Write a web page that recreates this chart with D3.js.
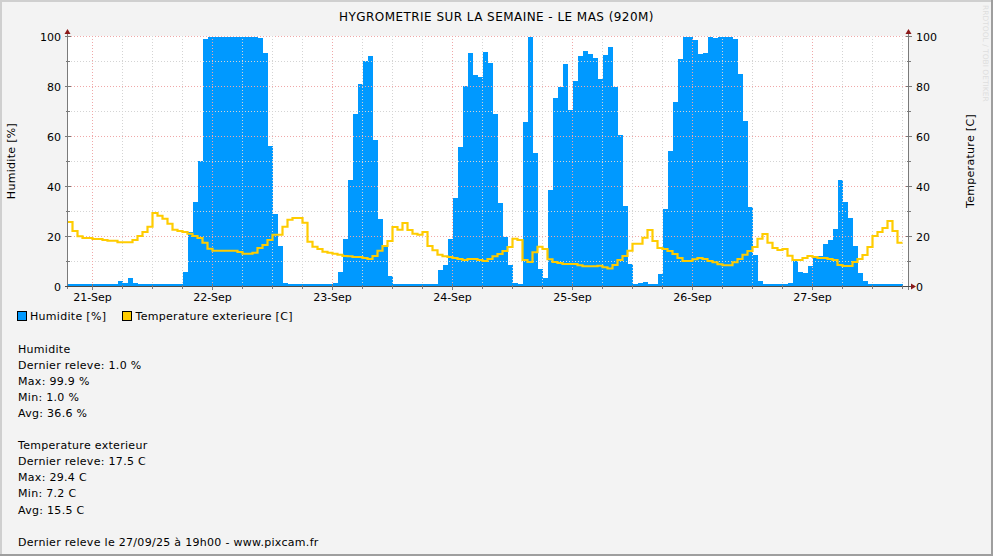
<!DOCTYPE html>
<html><head><meta charset="utf-8">
<script src="https://cdn.jsdelivr.net/npm/d3@7"></script>
<style>
html,body{margin:0;padding:0;background:#f3f3f3;}
svg text{font-family:"DejaVu Sans",sans-serif;fill:#000;}
</style></head>
<body><svg id="c" width="993" height="556"></svg>
<script>
// ---------- DATA ----------
const title = "HYGROMETRIE SUR LA SEMAINE - LE MAS (920M)";
const startTime = new Date(2025, 8, 20, 19, 0);   // first hourly sample
const endTime = new Date(2025, 8, 27, 19, 0);     // end of the graph window
const dayTicks = ["21-Sep","22-Sep","23-Sep","24-Sep","25-Sep","26-Sep","27-Sep"];
const yTicks = [0, 20, 40, 60, 80, 100];

const humidite = [
 1,1,1,1,1,1,1,1,1,1, 2.2,1.4,3.4,1.4, 1,1,1,1,1,1,1,1,1,
 5.8,21.8,33.8,50.2,99,99.8,99.8,99.9,99.9,99.9,99.9,99.9,99.8,99.8,99.8,99.4,93.4,56.2,29,16.2,1.4,
 1,1,1,1,1,1,1,1,1, 1.4,5.8,19,
 42.6,69,81,90.2,92.2,58.6,27,16,4.2,
 1,1,1,1,1,1,1,1,1,
 6.6,8.6,19,35.4,55.8,80.2,93.4,84.6,83.8,93.8,89.4,69,33.4,19.8,8.6,1.4,1,
 65.8,99.8,53.4,7,3.4,38.6,75.4,79.8,89,70.6,82.2,92.2,94.2,93,91.4,83,92.6,95.8,79.8,60.6,32.2,
 9,1,1.4,1.8,1,1,5,31,54.2,73.8,91,99.8,99.8,98.6,93,93.4,99.8,99.4,99.8,99.8,99.8,99,85,66.2,31.8,12.6,2.2,
 1,1,1,1,1, 1.4,10.2,5.8,5.4,8.2,12.2,12.2,17,18.6,23,42.6,33.8,27.4,16.2,5.4,2.2,
 1,1,1,1,1,1,1
];
const temperature = [
 25.8,22.2,20.1,19.4,19.4,19,19,18.6,18.3,18.3,
 17.7,17.7,17.7,18.6,20.2,21.8,23.9,29.4,28.3,27.1,
 25.1,22.7,22.2,21.8,21.1,20.2,19.4,17.5,15.1,14.3,
 14.3,14.3,14.3,14.3,13.8,13.1,13.1,13.5,15.4,16.6,
 18.6,20.7,20.7,23.9,26.7,27.4,27.4,25.5,17.9,15.9,
 15,13.9,13.5,13.1,12.7,12.2,
 12.1,11.8,11.8,11.4,11,12.2,14.3,16.2,18.2,23.8,
 22.7,25.4,22.6,21.1,20.7,21.8,16.2,14.5,12.7,12.1,
 11.8,11.4,11,10.6,11,11,10.6,10.2,11,12.1,
 13,14.2,15.8,19.1,18.6,10.6,9.8,13.7,15.9,15,
 10.9,9.8,9.4,9,9,9,8.5,8.1,8.1,8.1,
 8.3,7.7,7.2,8.6,10.6,12.2,
 14.3,17.1,17.1,19.5,22.6,18.2,15.4,15,14.2,13,
 11.4,10.2,10.2,10.9,11.4,11,10.2,9.7,8.9,8.5,
 8.5,9.7,11,12.7,14.2,15.8,19.1,21,17.5,15.4,
 14.6,15,12.3,10.6,10.6,11.4,12.2,11.8,11.4,11.4,
 11,10.6,8.6,8.2,8.2,9.8,11,12.6,15.8,20.2,
 21.8,23.4,26.2,22.2,17.5
];
const legendLabels = ["Humidite [%]", "Temperature exterieure [C]"];
const statLines = [
 "Humidite", "Dernier releve: 1.0 %", "Max: 99.9 %", "Min: 1.0 %", "Avg: 36.6 %", "",
 "Temperature exterieur", "Dernier releve: 17.5 C", "Max: 29.4 C", "Min: 7.2 C", "Avg: 15.5 C", "",
 "Dernier releve le 27/09/25 \u00e0 19h00 - www.pixcam.fr"
];

// ---------- DRAW ----------
const W = 993, H = 556;
const svg = d3.select("#c");
const HOUR = 3600e3;
const x = d3.scaleTime().domain([startTime, endTime]).range([67.5, 907.5]);
const y = d3.scaleLinear().domain([0, 100]).range([286.5, 36.5]);
const blue = "#0099ff", yellow = "#ffcc00";

// canvas & frame
svg.append("rect").attr("x",0).attr("y",0).attr("width",W).attr("height",H).attr("fill","#f3f3f3");
svg.append("path").attr("d",`M1,${H} V1 H${W}`).attr("stroke","#cfcfcf").attr("stroke-width",2).attr("fill","none");
svg.append("path").attr("d",`M0,${H-1} H${W-1} V0`).attr("stroke","#9e9e9e").attr("stroke-width",2).attr("fill","none");

// plot background
svg.append("rect").attr("x",68).attr("y",36).attr("width",840).attr("height",250).attr("fill","#ffffff");

// data series
const hum = humidite.map((v,i)=>({t:new Date(+startTime + i*HOUR), v}));
hum.push({t:new Date(+startTime + humidite.length*HOUR), v:humidite[humidite.length-1]});
const tmp = temperature.map((v,i)=>({t:new Date(+startTime + i*HOUR), v}));
tmp.push({t:new Date(+startTime + temperature.length*HOUR), v:temperature[temperature.length-1]});

const area = d3.area().curve(d3.curveStepAfter).x(d=>x(d.t)).y0(y(0)).y1(d=>y(d.v));
svg.append("path").datum(hum).attr("d",area).attr("fill",blue).attr("shape-rendering","crispEdges");

// grid (drawn over the area, as in the original)
const grid = svg.append("g").attr("shape-rendering","crispEdges");
for (let v = 10; v <= 100; v += 10) {
  const major = v % 20 === 0;
  grid.append("line").attr("x1",68).attr("x2",908).attr("y1",y(v)).attr("y2",y(v))
    .attr("stroke", major ? "#f0a8a8" : "#d4d4d4").attr("stroke-dasharray","1,2");
}
const sixHours = d3.timeHour.every(6).range(startTime, endTime);
sixHours.forEach(t=>{
  const major = t.getHours() === 0;
  grid.append("line").attr("x1",x(t)).attr("x2",x(t)).attr("y1",36).attr("y2",286)
    .attr("stroke", major ? "#f0a8a8" : "#d4d4d4").attr("stroke-dasharray","1,2");
});

// temperature line
const line = d3.line().curve(d3.curveStepAfter).x(d=>x(d.t)).y(d=>y(d.v));
svg.append("path").datum(tmp).attr("d",line).attr("fill","none").attr("stroke",yellow).attr("stroke-width",2.2);

// axes
const ax = svg.append("g").attr("shape-rendering","crispEdges");
ax.append("line").attr("x1",67.5).attr("x2",67.5).attr("y1",32).attr("y2",289).attr("stroke","#7a7a7a");
ax.append("line").attr("x1",908.5).attr("x2",908.5).attr("y1",32).attr("y2",290).attr("stroke","#7a7a7a");
ax.append("line").attr("x1",65).attr("x2",912).attr("y1",286.5).attr("y2",286.5).attr("stroke","#4a4a4a");
for (let v = 10; v <= 100; v += 10) {
  const len = v % 20 === 0 ? 3 : 2;
  ax.append("line").attr("x1",67.5-len).attr("x2",67.5+len).attr("y1",y(v)).attr("y2",y(v)).attr("stroke","#7a7a7a");
  ax.append("line").attr("x1",908.5-len).attr("x2",908.5+len).attr("y1",y(v)).attr("y2",y(v)).attr("stroke","#7a7a7a");
}
sixHours.forEach(t=>{
  const len = t.getHours() === 0 ? 3 : 2;
  ax.append("line").attr("x1",x(t)).attr("x2",x(t)).attr("y1",286.5-len).attr("y2",286.5+len).attr("stroke","#7a7a7a");
});
const arrow = "#8b1a1a";
svg.append("path").attr("d","M64.5,34 L67.5,29 L70.5,34 Z").attr("fill",arrow);
svg.append("path").attr("d","M905.5,34 L908.5,29 L911.5,34 Z").attr("fill",arrow);
svg.append("path").attr("d","M911,283.5 L916,286.5 L911,289.5 Z").attr("fill",arrow);

// tick labels
yTicks.forEach(v=>{
  svg.append("text").attr("x",61).attr("y",y(v)+4).attr("text-anchor","end").attr("font-size",11).text(v);
  svg.append("text").attr("x",916).attr("y",y(v)+4).attr("text-anchor","start").attr("font-size",11).text(v);
});
const days = d3.timeDay.range(d3.timeDay.ceil(startTime), endTime);
days.forEach((t,i)=>{
  svg.append("text").attr("x",x(t)).attr("y",300.5).attr("text-anchor","middle").attr("font-size",11).text(dayTicks[i]);
});

// titles
svg.append("text").attr("x",W/2).attr("y",21).attr("text-anchor","middle").attr("font-size",12)
  .attr("letter-spacing",0.45).text(title);
svg.append("text").attr("transform","translate(15,161) rotate(-90)").attr("text-anchor","middle").attr("font-size",11)
  .attr("letter-spacing",0.3).text("Humidite [%]");
svg.append("text").attr("transform","translate(974,161) rotate(-90)").attr("text-anchor","middle").attr("font-size",11)
  .attr("letter-spacing",0.3).text("Temperature [C]");
svg.append("text").attr("transform","translate(983,5) rotate(90)").attr("text-anchor","start")
  .attr("font-size",7.5).attr("font-family","DejaVu Sans Mono").style("fill","#dedede").text("RRDTOOL / TOBI OETIKER");

// legend
const lg = svg.append("g");
lg.append("rect").attr("x",17.5).attr("y",311.5).attr("width",9).attr("height",9).attr("fill",blue).attr("stroke","#000");
lg.append("text").attr("x",30).attr("y",320).attr("font-size",11).attr("letter-spacing",0.3).text(legendLabels[0]);
lg.append("rect").attr("x",122.5).attr("y",311.5).attr("width",9).attr("height",9).attr("fill",yellow).attr("stroke","#000");
lg.append("text").attr("x",135.5).attr("y",320).attr("font-size",11).attr("letter-spacing",0.3).text(legendLabels[1]);

// stats
statLines.forEach((s,i)=>{
  if (!s) return;
  svg.append("text").attr("x",18).attr("y",352.5 + i*16.1).attr("font-size",11).attr("letter-spacing",0.3).text(s);
});
</script></body></html>
